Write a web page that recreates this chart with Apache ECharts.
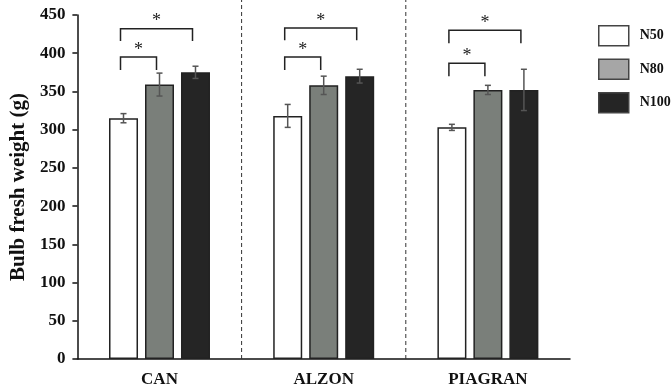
<!DOCTYPE html>
<html>
<head>
<meta charset="utf-8">
<script src="https://cdn.jsdelivr.net/npm/echarts@6/dist/echarts.min.js"></script>
<style>
  html, body { margin: 0; padding: 0; background: #fff; }
  #chart { width: 671px; height: 390px; }
</style>
</head>
<body>
<div id="chart"></div>
<script>
// Bulb fresh weight (g) by fertilizer and nitrogen level
const categories = ['CAN', 'ALZON', 'PIAGRAN'];
const seriesNames = ['N50', 'N80', 'N100'];
const n50 = [315, 318, 303];
const n80 = [359, 358, 352];
const n100 = [375, 370, 352];
const n50Err = [6, 15, 4];
const n80Err = [15, 12, 6];
const n100Err = [8, 9, 27];
// significance brackets: [category, fromBar, toBar, bracketTop, legBottom]
const brackets = [
  [0, 0, 1, 395, 378], [0, 0, 2, 432, 416],
  [1, 0, 1, 395, 378], [1, 0, 2, 433, 417],
  [2, 0, 1, 387, 370], [2, 0, 2, 430, 413]
];
const separatorTop = 470;

const barColors = ['#ffffff', '#7a7f7a', '#252525'];
const legendColors = ['#ffffff', '#a6a6a6', '#252525'];
const BAR_W = 29, BAR_GAP = 7, BRACKET_SHIFT = -3;
const FONT = '"Liberation Serif", "Times New Roman", serif';

function barOffset(k) { return (k - 1) * (BAR_W + BAR_GAP); }

const values = [n50, n80, n100];
const errs = [n50Err, n80Err, n100Err];
const errData = [];
values.forEach((arr, k) => arr.forEach((v, c) => errData.push([c, k, v, errs[k][c]])));

const chart = echarts.init(document.getElementById('chart'));

const barSeries = seriesNames.map((name, k) => ({
  type: 'bar',
  name: name,
  data: values[k],
  barWidth: BAR_W,
  barGap: (BAR_GAP / BAR_W * 100).toFixed(1) + '%',
  itemStyle: { color: barColors[k], borderColor: '#222', borderWidth: 1.5 },
  z: 2
}));

const errorSeries = {
  type: 'custom',
  name: 'err',
  data: errData,
  encode: { x: 0, y: 2 },
  z: 5,
  renderItem: function (params, api) {
    const c = api.value(0), k = api.value(1), v = api.value(2), e = api.value(3);
    const hi = api.coord([c, v + e]);
    const lo = api.coord([c, v - e]);
    const x = hi[0] + barOffset(k);
    const st = { stroke: '#555', lineWidth: 1.5, fill: null };
    return {
      type: 'group',
      children: [
        { type: 'line', shape: { x1: x, y1: hi[1], x2: x, y2: lo[1] }, style: st },
        { type: 'line', shape: { x1: x - 3, y1: hi[1], x2: x + 3, y2: hi[1] }, style: st },
        { type: 'line', shape: { x1: x - 3, y1: lo[1], x2: x + 3, y2: lo[1] }, style: st }
      ]
    };
  }
};

const bracketSeries = {
  type: 'custom',
  name: 'sig',
  data: brackets,
  encode: { x: 0, y: 3 },
  z: 6,
  clip: false,
  renderItem: function (params, api) {
    const c = api.value(0), a = api.value(1), b = api.value(2);
    const top = api.coord([c, api.value(3)]);
    const leg = api.coord([c, api.value(4)]);
    const x1 = top[0] + barOffset(a) + BRACKET_SHIFT;
    const x2 = top[0] + barOffset(b) + BRACKET_SHIFT;
    return {
      type: 'group',
      children: [
        {
          type: 'polyline',
          shape: { points: [[x1, leg[1]], [x1, top[1]], [x2, top[1]], [x2, leg[1]]] },
          style: { stroke: '#222', lineWidth: 1.5, fill: null }
        },
        {
          type: 'text',
          style: {
            text: '*', x: (x1 + x2) / 2, y: top[1] + 2,
            align: 'center', verticalAlign: 'bottom',
            font: '18px ' + FONT, fill: '#222'
          }
        }
      ]
    };
  }
};

const separatorSeries = {
  type: 'custom',
  name: 'sep',
  data: [[1, 0], [2, 0]],
  encode: { x: 0, y: 1 },
  z: 1,
  clip: false,
  renderItem: function (params, api) {
    const i = api.value(0);
    const base = api.coord([i, 0]);
    const top = api.coord([i, separatorTop]);
    const x = base[0] - api.size([1, 0])[0] / 2;
    return {
      type: 'line',
      shape: { x1: x, y1: base[1], x2: x, y2: top[1] },
      style: { stroke: '#333', lineWidth: 1, lineDash: [4, 3] }
    };
  }
};

chart.setOption({
  animation: false,
  backgroundColor: '#ffffff',
  grid: { left: 73, right: 101, top: 15, bottom: 31 },
  legend: {
    orient: 'vertical',
    left: 598,
    top: 25,
    padding: 0,
    itemWidth: 30,
    itemHeight: 20,
    itemGap: 12,
    icon: 'rect',
    textStyle: { fontFamily: FONT, fontWeight: 'bold', fontSize: 14, color: '#111', padding: [0, 0, 0, 6] },
    data: seriesNames.map((n, i) => ({
      name: n,
      itemStyle: { color: legendColors[i], borderColor: '#444', borderWidth: 1.5 }
    }))
  },
  xAxis: {
    type: 'category',
    data: categories,
    axisLine: { lineStyle: { color: '#111', width: 1.5 } },
    axisTick: { show: false },
    splitLine: { show: false },
    axisLabel: { margin: 12, fontFamily: FONT, fontWeight: 'bold', fontSize: 17, color: '#111' }
  },
  yAxis: {
    type: 'value',
    min: 0,
    max: 450,
    interval: 50,
    name: 'Bulb fresh weight (g)',
    nameLocation: 'middle',
    nameGap: 41,
    nameTextStyle: { fontFamily: FONT, fontWeight: 'bold', fontSize: 21, color: '#111' },
    axisLine: { show: true, lineStyle: { color: '#111', width: 1.5 } },
    axisTick: { show: true, length: 5, lineStyle: { color: '#111', width: 1.5 } },
    splitLine: { show: false },
    axisLabel: { margin: 12, fontFamily: FONT, fontWeight: 'bold', fontSize: 17, color: '#111' }
  },
  series: [separatorSeries].concat(barSeries, [errorSeries, bracketSeries])
});
</script>
</body>
</html>
